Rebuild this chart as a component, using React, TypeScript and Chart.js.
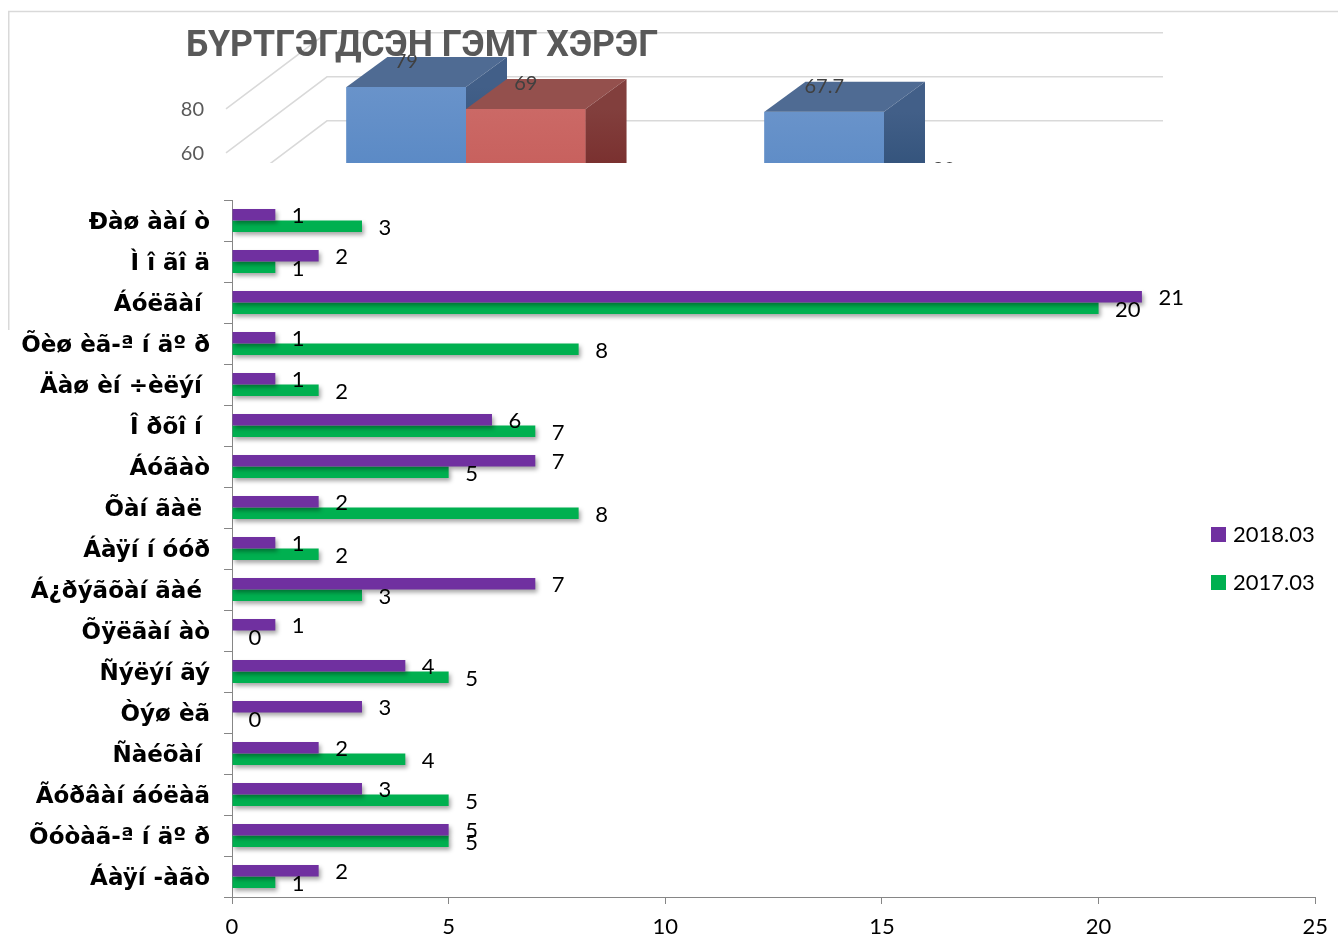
import React, { useEffect, useRef } from "react";
import { Chart, registerables } from "chart.js";

Chart.register(...registerables);

// ---------- main chart data ----------
const categories = [
  "Ðàø ààí ò",
  "Ì î ãî ä",
  "Áóëãàí ",
  "Õèø èã-ª í äº ð",
  "Äàø èí ÷èëýí ",
  "Î ðõî í ",
  "Áóãàò",
  "Õàí ãàë ",
  "Áàÿí í óóð",
  "Á¿ðýãõàí ãàé ",
  "Õÿëãàí àò",
  "Ñýëýí ãý",
  "Òýø èã",
  "Ñàéõàí ",
  "Ãóðâàí áóëàã",
  "Õóòàã-ª í äº ð",
  "Áàÿí -àãò",
];
const values2018 = [1, 2, 21, 1, 1, 6, 7, 2, 1, 7, 1, 4, 3, 2, 3, 5, 2];
const values2017 = [3, 1, 20, 8, 2, 7, 5, 8, 2, 3, 0, 5, 0, 4, 5, 5, 1];
const seriesLabels = ["2018.03", "2017.03"];
const seriesColors = ["#7030A0", "#00B050"];
const xTicks = [0, 5, 10, 15, 20, 25];

// ---------- background (partly hidden) chart data ----------
const bgTitle = "БҮРТГЭГДСЭН ГЭМТ ХЭРЭГ";
const bgGroups = ["1", "2"];
const bgSeriesA = [79, 67.7];
const bgSeriesB = [69, 30];
const bgAxisTicks = [20, 40, 60, 80];
const bgAxisLabels = [60, 80];

const LABEL_FONT = "Lato, 'Open Sans', sans-serif";

export default function App() {
  const bgRef = useRef<HTMLCanvasElement | null>(null);
  const mainRef = useRef<HTMLCanvasElement | null>(null);

  useEffect(() => {
    // ---------------- background 3D chart ----------------
    const depthX = 41;
    const depthY = -30;
    const faceColors = [
      { top: "#4f6b93", sideTop: "#425f88", sideBot: "#2f5078", frontTop: "#6993ca", frontBot: "#4a7fc0" },
      { top: "#94504d", sideTop: "#823f3d", sideBot: "#772b2a", frontTop: "#cb6966", frontBot: "#c0504d" },
    ];

    const bgPlugin = {
      id: "bg3d",
      beforeDatasetsDraw(chart: any) {
        const ctx = chart.ctx;
        const y = chart.scales.y;
        ctx.save();
        ctx.strokeStyle = "#d9d9d9";
        ctx.lineWidth = 1.5;
        ctx.beginPath();
        ctx.moveTo(0.75, 320);
        ctx.lineTo(0.75, 1.5);
        ctx.lineTo(chart.width, 1.5);
        ctx.stroke();
        const wallFrontX = 218;
        const wallBackX = 319;
        const wallRight = 1155;
        bgAxisTicks.forEach((v) => {
          const p = y.getPixelForValue(v);
          ctx.beginPath();
          ctx.moveTo(wallFrontX, p + 24);
          ctx.lineTo(wallBackX, p - 52);
          ctx.lineTo(wallRight, p - 52);
          ctx.stroke();
        });
        ctx.fillStyle = "#595959";
        ctx.font = `20px ${LABEL_FONT}`;
        ctx.textAlign = "right";
        ctx.textBaseline = "middle";
        bgAxisLabels.forEach((v) => {
          const p = y.getPixelForValue(v);
          ctx.fillText(String(v), 196, p + 25);
        });
        ctx.restore();
      },
      afterDatasetsDraw(chart: any) {
        const ctx = chart.ctx;
        ctx.save();
        chart.data.datasets.forEach((_ds: any, i: number) => {
          const c = faceColors[i];
          const meta = chart.getDatasetMeta(i);
          meta.data.forEach((el: any) => {
            const l = el.x - el.width / 2;
            const r = el.x + el.width / 2;
            const t = el.y;
            const b = el.base;
            const fg = ctx.createLinearGradient(0, t, 0, t + 170);
            fg.addColorStop(0, c.frontTop);
            fg.addColorStop(1, c.frontBot);
            ctx.fillStyle = fg;
            ctx.fillRect(l, t, r - l, b - t);
            ctx.fillStyle = c.top;
            ctx.beginPath();
            ctx.moveTo(l, t);
            ctx.lineTo(r, t);
            ctx.lineTo(r + depthX, t + depthY);
            ctx.lineTo(l + depthX, t + depthY);
            ctx.closePath();
            ctx.fill();
            const g = ctx.createLinearGradient(0, t, 0, b);
            g.addColorStop(0, c.sideTop);
            g.addColorStop(0.5, c.sideBot);
            g.addColorStop(1, c.sideBot);
            ctx.fillStyle = g;
            ctx.beginPath();
            ctx.moveTo(r, t);
            ctx.lineTo(r + depthX, t + depthY);
            ctx.lineTo(r + depthX, b + depthY);
            ctx.lineTo(r, b);
            ctx.closePath();
            ctx.fill();
          });
        });
        ctx.fillStyle = "#404040";
        ctx.font = `20px ${LABEL_FONT}`;
        ctx.textAlign = "center";
        ctx.textBaseline = "middle";
        chart.data.datasets.forEach((ds: any, i: number) => {
          const meta = chart.getDatasetMeta(i);
          meta.data.forEach((el: any, j: number) => {
            ctx.fillText(String(ds.data[j]), el.x, el.y + depthY + 5);
          });
        });
        ctx.restore();
      },
      afterDraw(chart: any) {
        const ctx = chart.ctx;
        ctx.save();
        ctx.fillStyle = "#595959";
        ctx.font = `bold 36px Roboto, 'Noto Sans', sans-serif`;
        ctx.textAlign = "left";
        ctx.textBaseline = "alphabetic";
        const w = ctx.measureText(bgTitle).width;
        const target = 472;
        ctx.translate(178, 45.5);
        ctx.scale(target / w, 1);
        ctx.fillText(bgTitle, 0, 0);
        ctx.restore();
      },
    };

    const bgChart = new Chart(bgRef.current!, {
      type: "bar",
      data: {
        labels: bgGroups,
        datasets: [
          { data: bgSeriesA, backgroundColor: faceColors[0].frontBot, borderWidth: 0 },
          { data: bgSeriesB, backgroundColor: faceColors[1].frontBot, borderWidth: 0 },
        ],
      },
      options: {
        animation: false,
        responsive: false,
        maintainAspectRatio: false,
        layout: { padding: { top: 30.8, bottom: 69.2, left: 249, right: 245 } },
        plugins: { legend: { display: false }, tooltip: { enabled: false } },
        datasets: { bar: { categoryPercentage: 0.572, barPercentage: 1 } } as any,
        scales: {
          x: { display: false },
          y: { display: false, min: 0, max: 100 },
        },
      },
      plugins: [bgPlugin],
    } as any);

    // ---------------- main horizontal bar chart ----------------
    const shadowPlugin = {
      id: "barShadow",
      beforeDatasetDraw(chart: any) {
        const ctx = chart.ctx;
        ctx.save();
        ctx.shadowColor = "rgba(0,0,0,0.35)";
        ctx.shadowBlur = 4;
        ctx.shadowOffsetX = 2;
        ctx.shadowOffsetY = 3;
      },
      afterDatasetDraw(chart: any) {
        chart.ctx.restore();
      },
    };

    const labelPlugin = {
      id: "valueLabels",
      afterDatasetsDraw(chart: any) {
        const ctx = chart.ctx;
        ctx.save();
        ctx.fillStyle = "#000";
        ctx.font = `22px ${LABEL_FONT}`;
        ctx.textAlign = "left";
        ctx.textBaseline = "middle";
        chart.data.datasets.forEach((ds: any, i: number) => {
          const meta = chart.getDatasetMeta(i);
          meta.data.forEach((el: any, j: number) => {
            ctx.fillText(String(ds.data[j]), el.x + 16.5, el.y + 1.5);
          });
        });
        ctx.restore();
      },
      afterDraw(chart: any) {
        const ctx = chart.ctx;
        ctx.save();
        ctx.font = `22px ${LABEL_FONT}`;
        ctx.textAlign = "left";
        ctx.textBaseline = "middle";
        seriesLabels.forEach((lab, i) => {
          const yc = 371.5 + i * 48;
          ctx.fillStyle = seriesColors[i];
          ctx.fillRect(1201, yc - 7.5, 15, 15);
          ctx.fillStyle = "#000";
          ctx.fillText(lab, 1223, yc);
        });
        ctx.restore();
      },
    };

    const mainChart = new Chart(mainRef.current!, {
      type: "bar",
      data: {
        labels: categories,
        datasets: [
          { label: seriesLabels[0], data: values2018, backgroundColor: seriesColors[0], borderWidth: 0 },
          { label: seriesLabels[1], data: values2017, backgroundColor: seriesColors[1], borderWidth: 0 },
        ],
      },
      options: {
        indexAxis: "y",
        animation: false,
        responsive: false,
        maintainAspectRatio: false,
        layout: { padding: { top: 37, right: 20, left: 0, bottom: 0 } },
        datasets: { bar: { categoryPercentage: 0.56, barPercentage: 1 } } as any,
        plugins: { legend: { display: false }, tooltip: { enabled: false } },
        scales: {
          x: {
            min: 0,
            max: 25,
            afterBuildTicks: (s: any) => {
              s.ticks = xTicks.map((v) => ({ value: v }));
            },
            ticks: { color: "#000", font: { family: LABEL_FONT, size: 22 }, padding: 10, maxRotation: 0 },
            grid: { drawOnChartArea: false, drawTicks: true, tickLength: 7, color: "#868686" },
            border: { color: "#868686" },
            afterFit: (s: any) => {
              s.height = 41;
            },
          },
          y: {
            ticks: {
              color: "#000",
              font: { family: "'DejaVu Sans', 'Liberation Sans', sans-serif", size: 23, weight: "bold" },
              padding: 14,
              labelOffset: 2.5,
              autoSkip: false,
            },
            grid: { drawOnChartArea: false, drawTicks: true, tickLength: 8, color: "#868686", offset: true },
            border: { color: "#868686" },
            afterFit: (s: any) => {
              s.width = 222;
            },
          },
        },
      },
      plugins: [shadowPlugin, labelPlugin],
    } as any);

    return () => {
      bgChart.destroy();
      mainChart.destroy();
    };
  }, []);

  return (
    <div style={{ position: "absolute", left: 0, top: 0, width: 1338, height: 938, background: "#fff", overflow: "hidden" }}>
      <canvas ref={bgRef} width={1330} height={320} style={{ position: "absolute", left: 8, top: 10 }} />
      <canvas
        ref={mainRef}
        width={1328}
        height={775}
        style={{ position: "absolute", left: 10, top: 163, background: "#fff" }}
      />
    </div>
  );
}
